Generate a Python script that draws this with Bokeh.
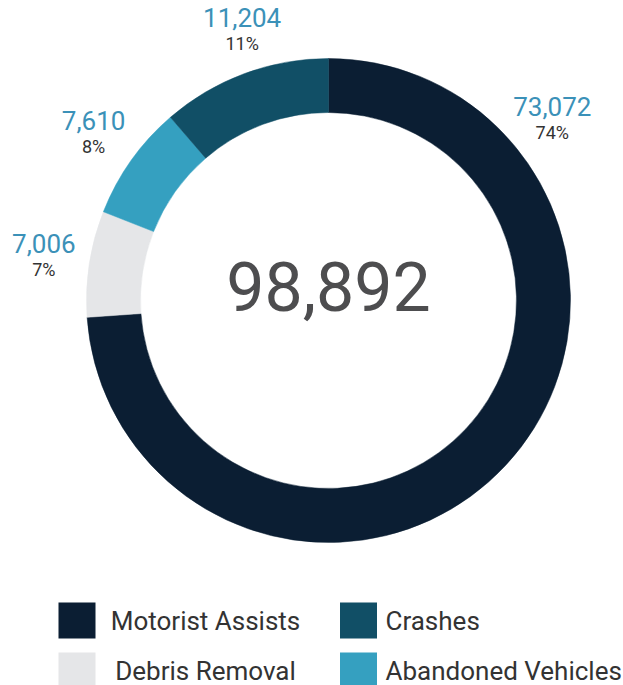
import math
from bokeh.plotting import figure
from bokeh.models import Range1d, ColumnDataSource
from bokeh.core.properties import value
from bokeh.embed import file_html
from bokeh.resources import INLINE

# ---- data (clockwise from 12 o'clock) ----
categories = ["Motorist Assists", "Debris Removal", "Abandoned Vehicles", "Crashes"]
counts = [73072, 7006, 7610, 11204]
colors = ["#0b1e33", "#e5e6e8", "#35a0c0", "#114f66"]
legend_order = ["Motorist Assists", "Crashes", "Debris Removal", "Abandoned Vehicles"]

FONT = "Roboto"
W, H = 623, 685

p = figure(width=W, height=H, x_range=Range1d(0, W), y_range=Range1d(0, H),
           output_backend="svg", toolbar_location=None, min_border=0)
p.axis.visible = False
p.grid.visible = False
p.outline_line_color = None
p.background_fill_color = "white"
p.border_fill_color = "white"

cx, cy = 328, H - 300
r_in, r_out = 188, 242
total = sum(counts)
fracs = [c / total for c in counts]
starts, ends = [], []
a = math.pi / 2
for f in fracs:
    starts.append(a)
    a -= 2 * math.pi * f
    ends.append(a)

src = ColumnDataSource(dict(start=starts, end=ends, color=colors, cat=categories))
p.annular_wedge(x=cx, y=cy, inner_radius=r_in, outer_radius=r_out,
                start_angle="start", end_angle="end", direction="clock",
                fill_color="color", line_color="color", line_width=0.5, source=src)

# ---- slice labels ----
vx, vy, vt, px_, py_, pt = [], [], [], [], [], []
for s, e, f, c in zip(starts, ends, fracs, counts):
    ang = (s + e) / 2 if f < 0.5 else s - math.radians(51)
    r = 288
    x = cx + r * math.cos(ang)
    y = cy + r * math.sin(ang)
    # gentle pull of labels near the top toward the vertical axis
    if math.cos(ang) < 0 and math.sin(ang) > 0.9:
        x += 14
    vx.append(x); vy.append(y + 13); vt.append(f"{c:,}")
    px_.append(x); py_.append(y - 13); pt.append(f"{round(f * 100)}%")

p.text(x=vx, y=vy, text=vt, text_font=value(FONT), text_font_size="26px",
       text_color="#3b91b8", text_align="center", text_baseline="middle")
p.text(x=px_, y=py_, text=pt, text_font=value(FONT), text_font_size="18px",
       text_color="#333333", text_align="center", text_baseline="middle")

# ---- center total ----
p.text(x=[cx], y=[H - 286], text=[f"{total:,}"], text_font=value(FONT),
       text_font_size="68px", text_color="#4d4d4f", text_align="center",
       text_baseline="middle")

# ---- legend ----
col_sq_x = [76.5, 358]
row_y = [H - 620, H - 670]
sq_x, sq_y, sq_c = [], [], []
c0_t, c0_y, c1_t, c1_y = [], [], [], []
for i, name in enumerate(legend_order):
    col, row = i % 2, i // 2
    sq_x.append(col_sq_x[col]); sq_y.append(row_y[row])
    sq_c.append(colors[categories.index(name)])
    if col == 0:
        c0_t.append(name); c0_y.append(row_y[row])
    else:
        c1_t.append(name); c1_y.append(row_y[row])
p.rect(x=sq_x, y=sq_y, width=37, height=36, fill_color=sq_c, line_color=None)
p.text(x=[205] * len(c0_t), y=c0_y, text=c0_t, text_font=value(FONT),
       text_font_size="26px", text_color="#333333", text_align="center",
       text_baseline="middle")
p.text(x=[385] * len(c1_t), y=c1_y, text=c1_t, text_font=value(FONT),
       text_font_size="26px", text_color="#333333", text_align="left",
       text_baseline="middle")

open("out.html", "w").write(file_html(p, INLINE))
